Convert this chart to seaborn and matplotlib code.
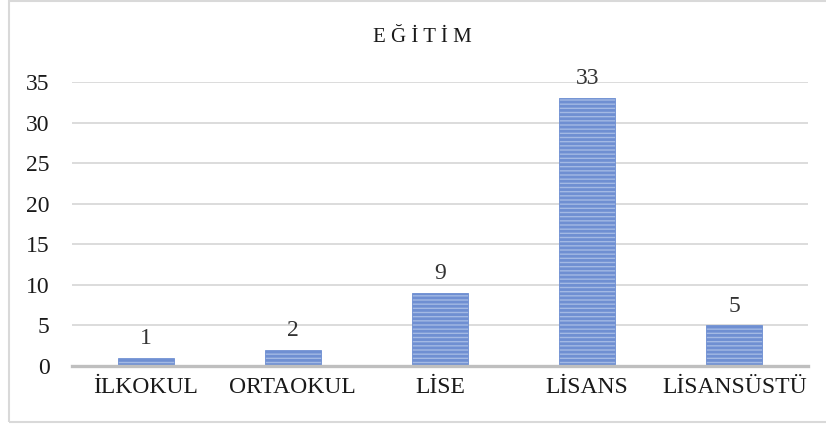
import matplotlib
matplotlib.use("Agg")
import matplotlib.pyplot as plt
import matplotlib.patches as mpatches
import pandas as pd
import seaborn as sns

categories = ["İLKOKUL", "ORTAOKUL", "LİSE", "LİSANS", "LİSANSÜSTÜ"]
counts = [1, 2, 9, 33, 5]
title = "E Ğ İ T İ M"


def main():
    sns.set_style("white")
    plt.rcParams["font.family"] = ["Liberation Serif", "DejaVu Serif"]
    plt.rcParams["hatch.color"] = "#3E68BE"
    plt.rcParams["hatch.linewidth"] = 2.0

    data = pd.DataFrame({"edu": categories, "n": counts})

    fig = plt.figure(figsize=(8.26, 4.26), dpi=100)
    fig.patches.append(mpatches.Rectangle(
        (9 / 826, 4 / 426), 1.0, 421 / 426, transform=fig.transFigure,
        fill=False, edgecolor="#D9D9D9", linewidth=1.5, zorder=0))
    ax = fig.add_axes([72 / 826, 60 / 426, 736 / 826, 284 / 426])

    sns.barplot(data=data, x="edu", y="n", ax=ax, color="#A3B9E4",
                width=0.38, saturation=1, edgecolor="#6F8FD2", linewidth=0.6)
    for bar in ax.patches:
        bar.set_hatch("----")

    ax.set_ylim(0, 35)
    ax.set_yticks(range(0, 36, 5))
    ax.yaxis.grid(True, color="#D9D9D9", linewidth=1.3)
    ax.set_axisbelow(True)
    for side in ["left", "right", "top"]:
        ax.spines[side].set_visible(False)
    ax.spines["bottom"].set_color("#BFBFBF")
    ax.spines["bottom"].set_linewidth(2.4)
    ax.tick_params(axis="y", length=0, labelsize=17, colors="#1a1a1a", pad=16)
    ax.tick_params(axis="x", length=0, labelsize=17, colors="#1a1a1a", pad=8)
    ax.set_xlabel("")
    ax.set_ylabel("")

    for i, v in enumerate(counts):
        ax.text(i, v + 1.1, str(v), ha="center", va="bottom",
                fontsize=17, color="#333333")

    fig.text(422 / 826, 1 - 38 / 426, title, ha="center", va="center",
             fontsize=15, color="#1a1a1a")

    fig.savefig("out.png", dpi=100)


if __name__ == "__main__":
    main()
